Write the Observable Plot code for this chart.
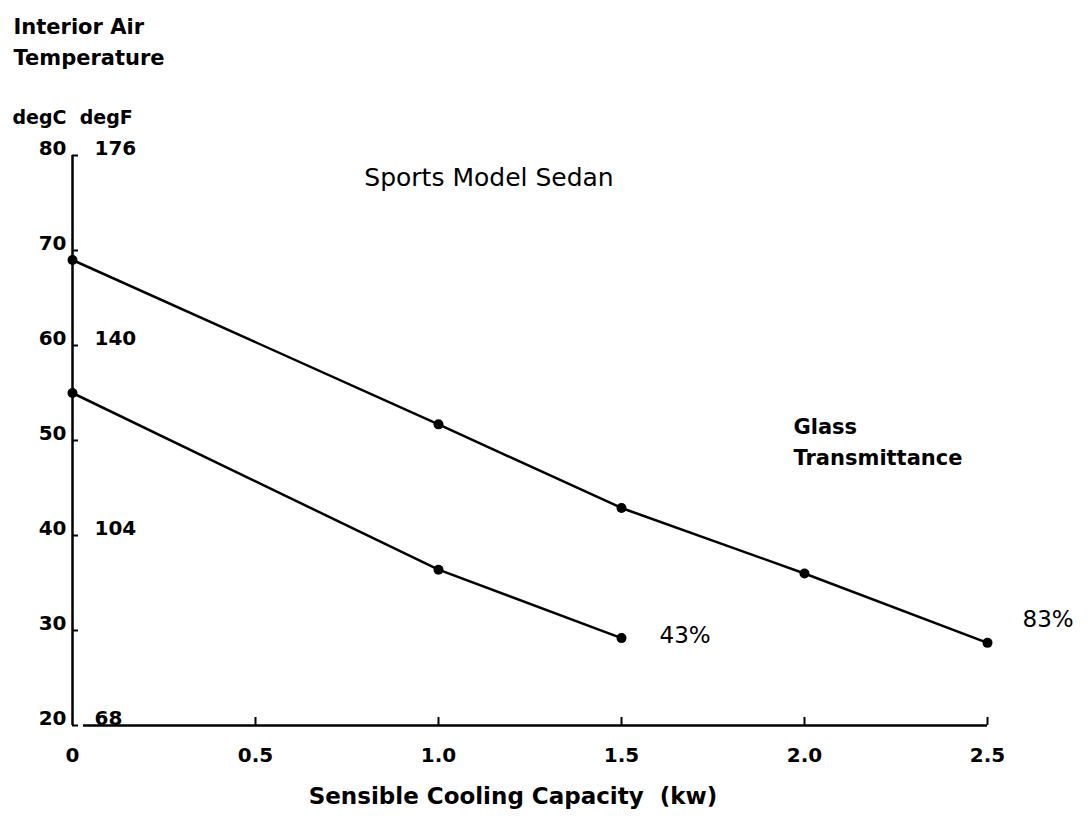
<!DOCTYPE html>
<html><head><meta charset="utf-8">
<script src="https://cdn.jsdelivr.net/npm/d3@7"></script>
<script src="https://cdn.jsdelivr.net/npm/@observablehq/plot@0.6"></script>
<style>body{margin:0;background:#fff} svg{display:block}</style>
</head><body><div id="chart"></div>
<script>
// ---- data ----
const capacity83 = [0, 1.0, 1.5, 2.0, 2.5];
const temp83 = [69, 51.7, 42.9, 36.0, 28.7];
const capacity43 = [0, 1.0, 1.5];
const temp43 = [55, 36.4, 29.2];
const seriesNames = ["83%", "43%"];
const tickC = [20, 30, 40, 50, 60, 70, 80];
const tickFpos = [20, 40, 60, 80];
const tickFlabels = ["68", "104", "140", "176"];
const tickX = [0, 0.5, 1.0, 1.5, 2.0, 2.5];
const tickXlabels = ["0", "0.5", "1.0", "1.5", "2.0", "2.5"];
const titleText = "Sports Model Sedan";
const yTitle = "Interior Air\nTemperature";
const unitText = "degC  degF";
const xTitle = "Sensible Cooling Capacity  (kw)";
const legendTitle = "Glass\nTransmittance";

const rows = [
  ...capacity83.map((x, i) => ({series: seriesNames[0], x, y: temp83[i]})),
  ...capacity43.map((x, i) => ({series: seriesNames[1], x, y: temp43[i]}))
];
const fPairs = tickFpos.map((c, i) => ({c, label: tickFlabels[i]}));

const font = "DejaVu Sans";
const tickFont = {fontWeight: "bold", fontSize: 20, letterSpacing: 1};
const headFont = {fontWeight: "bold", fontSize: 21, letterSpacing: 1.5};

const chart = Plot.plot({
  width: 1091,
  height: 823,
  marginLeft: 72,
  marginRight: 104,
  marginTop: 155,
  marginBottom: 98,
  style: {fontFamily: font, color: "black", background: "white"},
  x: {domain: [0, 2.5], axis: null, label: null},
  y: {domain: [20, 80], axis: null, label: null},
  marks: [
    // axis lines
    Plot.ruleX([0], {stroke: "black", strokeWidth: 2.5}),
    Plot.ruleY([20], {stroke: "black", strokeWidth: 2.5, insetLeft: 11}),
    // y ticks (inside, to the right)
    Plot.axisY(tickC, {label: null, tickSize: 6, dx: 6, strokeWidth: 2, tickFormat: () => ""}),
    // degC labels
    Plot.axisY(tickC, {label: null, tickSize: 0, tickPadding: 6, dy: -7, ...tickFont}),
    // degF labels
    Plot.text(fPairs, {y: "c", text: "label", frameAnchor: "left", dx: 22, dy: -7, textAnchor: "start", ...tickFont}),
    // x ticks (upward)
    Plot.axisX(tickX.slice(1), {label: null, tickSize: 8, dy: -8, strokeWidth: 2, tickFormat: () => ""}),
    // x labels
    Plot.axisX(tickX, {label: null, tickSize: 0, tickPadding: 22, tickFormat: (d) => tickXlabels[tickX.indexOf(d)], ...tickFont}),
    // series
    Plot.line(rows, {x: "x", y: "y", z: "series", stroke: "black", strokeWidth: 2.5}),
    Plot.dot(rows, {x: "x", y: "y", r: 5, fill: "black"}),
    Plot.text(rows.filter(d => d.series === seriesNames[1]), Plot.selectLast({x: "x", y: "y", text: "series", dx: 38, dy: -2, textAnchor: "start", fontSize: 23, letterSpacing: 2})),
    Plot.text(rows.filter(d => d.series === seriesNames[0]), Plot.selectLast({x: "x", y: "y", text: "series", dx: 35, dy: -23, textAnchor: "start", fontSize: 23, letterSpacing: 2})),
    // annotations
    Plot.text([titleText], {frameAnchor: "top", dx: -41, dy: 13, fontSize: 25, letterSpacing: 2.8}),
    Plot.text([yTitle], {frameAnchor: "top-left", dx: -59, dy: -143, textAnchor: "start", lineAnchor: "top", lineHeight: 1.45, ...headFont}),
    Plot.text([unitText], {frameAnchor: "top-left", dx: -60, dy: -45, textAnchor: "start", lineAnchor: "top", fontWeight: "bold", fontSize: 19, letterSpacing: 0.5}),
    Plot.text([legendTitle], {frameAnchor: "top-left", dx: 721, dy: 257, textAnchor: "start", lineAnchor: "top", lineHeight: 1.45, fontWeight: "bold", fontSize: 21, letterSpacing: 2}),
    Plot.text([xTitle], {frameAnchor: "bottom", dx: -17, dy: 78, fontWeight: "bold", fontSize: 23, letterSpacing: 2.2})
  ]
});
document.getElementById("chart").append(chart);
</script>
</body></html>
